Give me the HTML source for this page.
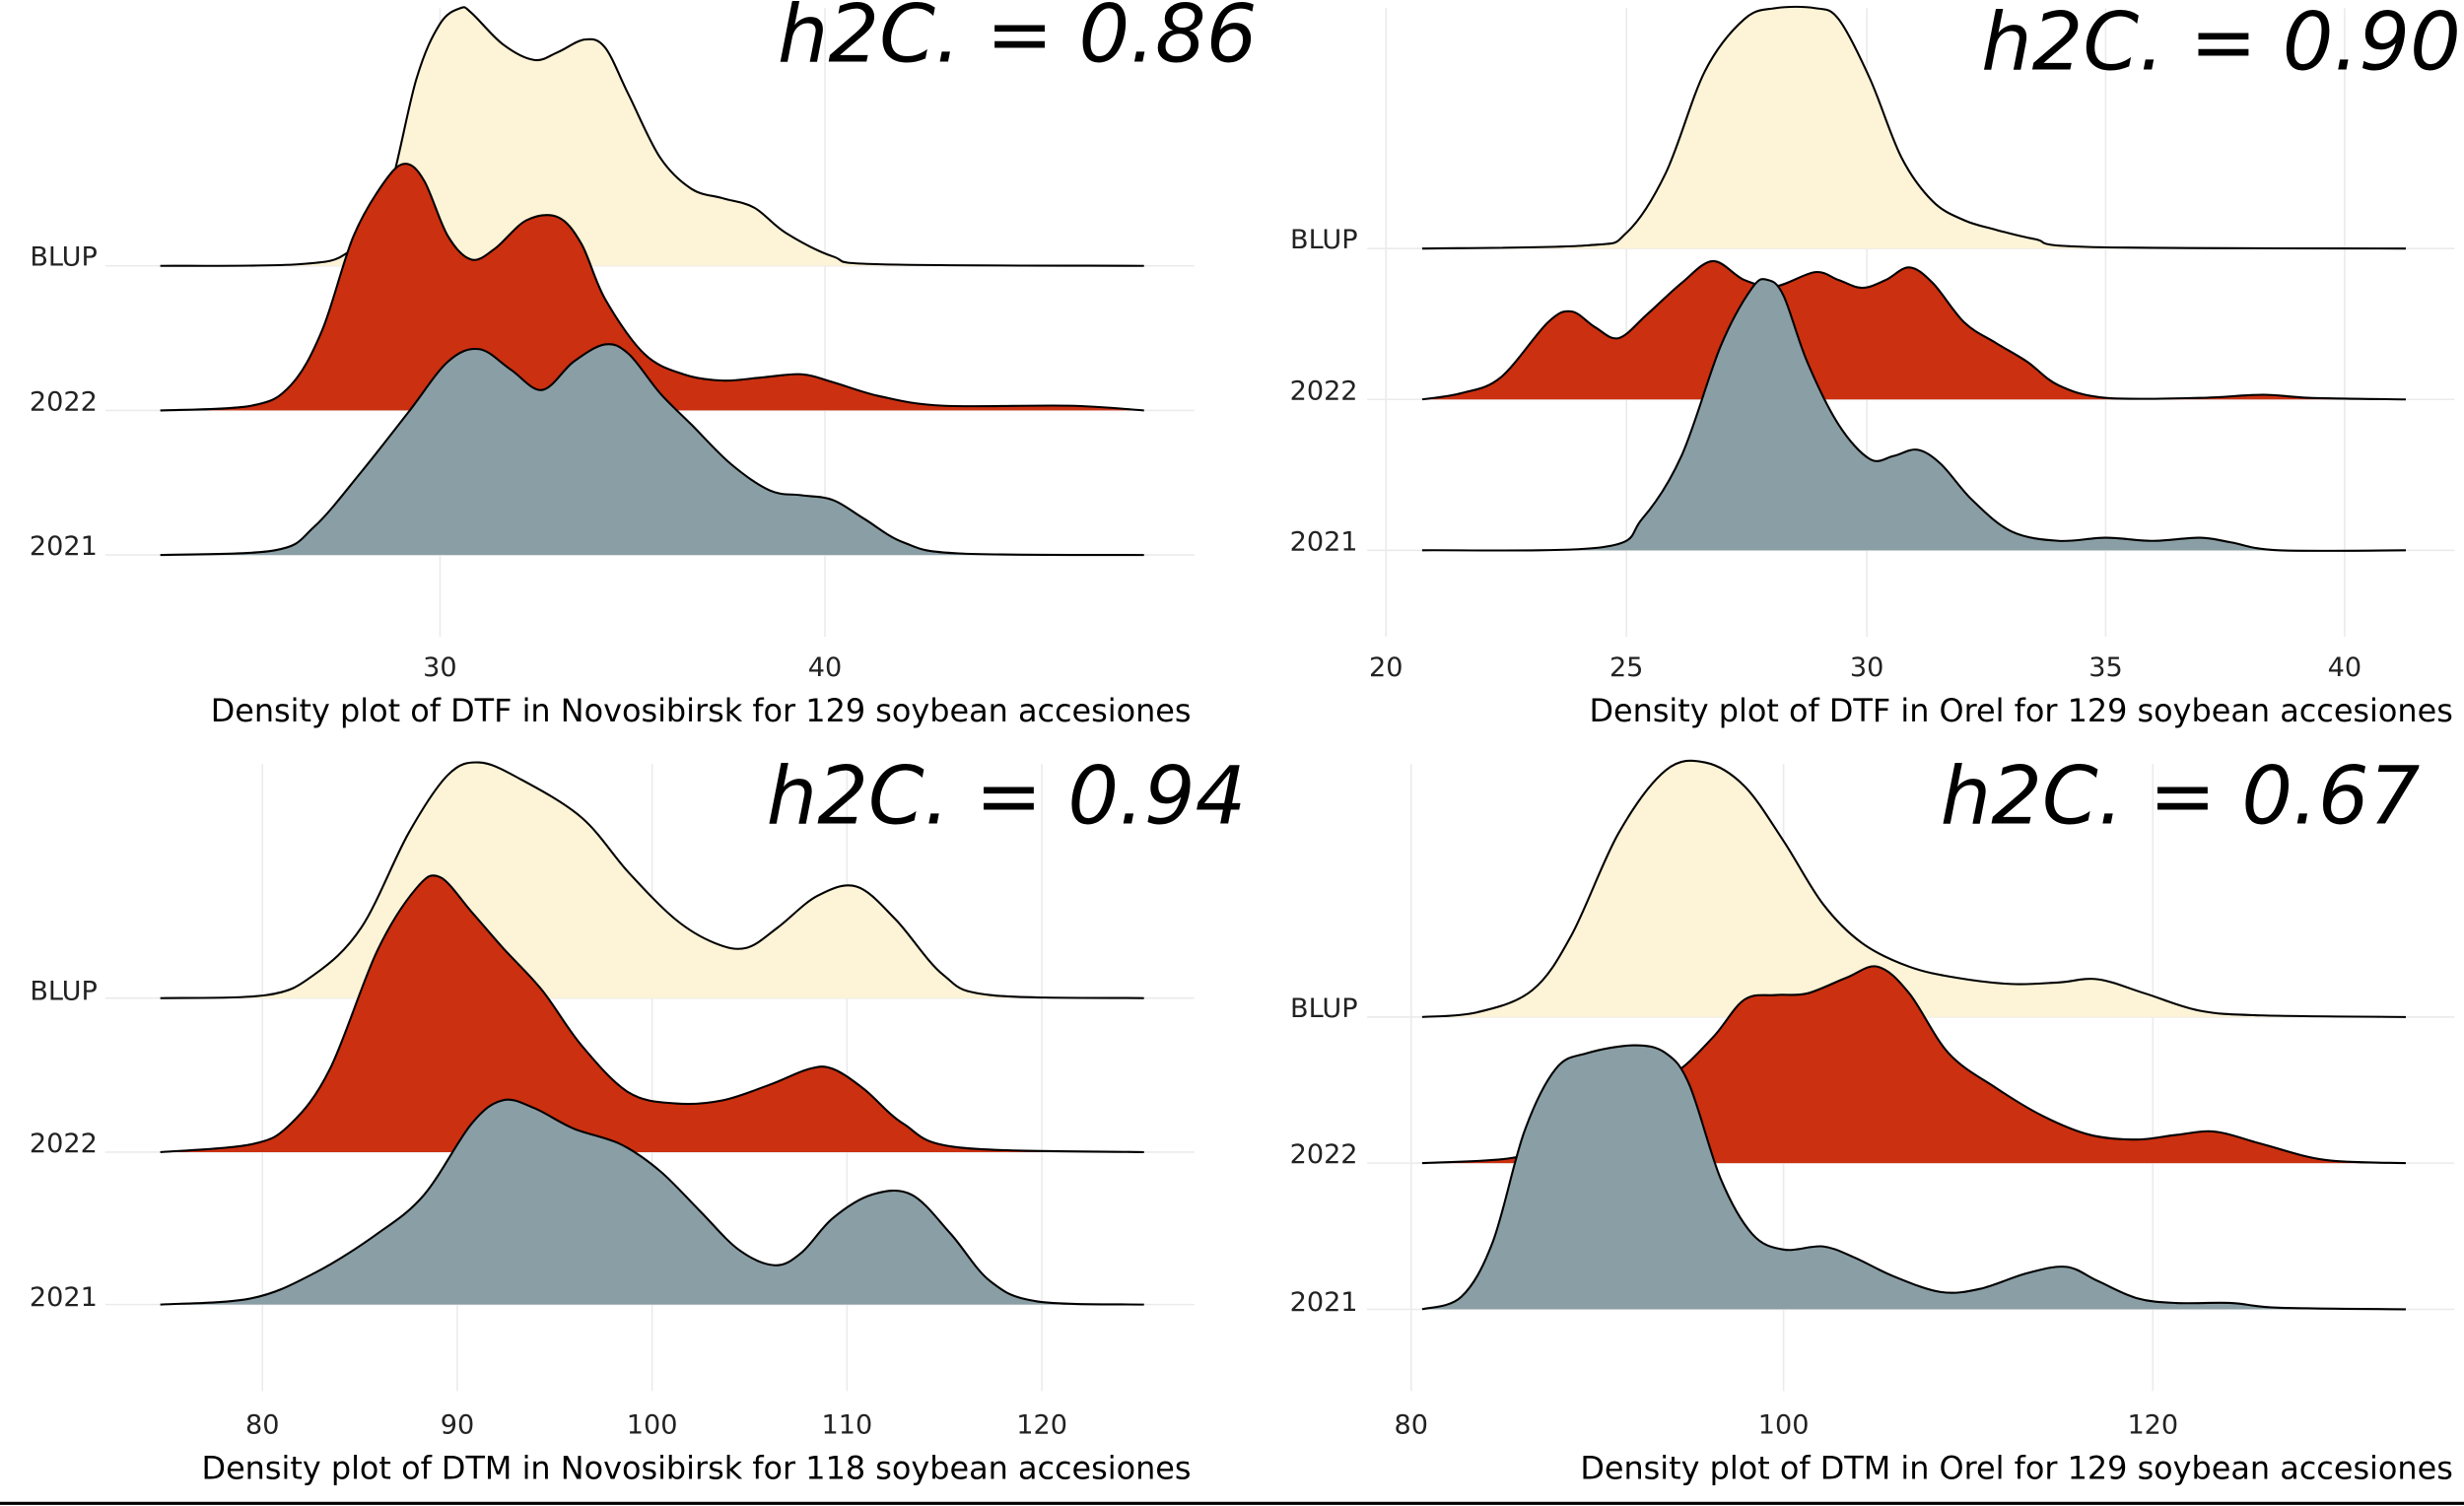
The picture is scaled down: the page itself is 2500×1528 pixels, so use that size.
<!DOCTYPE html>
<html><head><meta charset="utf-8"><style>
html,body{margin:0;padding:0;background:#fff;}
svg{display:block;}
text{font-family:"DejaVu Sans","Liberation Sans",sans-serif;fill:#000;}
.t{font-size:17px;fill:#222;}
.ti{font-size:20px;}
.h{font-size:51px;font-style:italic;}
.g{stroke:#ebebeb;stroke-width:1;}
</style></head><body>
<svg id="s" width="2500" height="1528" viewBox="0 0 1568 958" xmlns="http://www.w3.org/2000/svg">
<g id="grid">
<line class="g" x1="280" y1="5" x2="280" y2="405"/><line class="g" x1="525" y1="5" x2="525" y2="405"/>
<line class="g" x1="67" y1="169" x2="760" y2="169"/><line class="g" x1="67" y1="261" x2="760" y2="261"/><line class="g" x1="67" y1="353" x2="760" y2="353"/>
<line class="g" x1="882" y1="5" x2="882" y2="405"/><line class="g" x1="1035" y1="5" x2="1035" y2="405"/><line class="g" x1="1188" y1="5" x2="1188" y2="405"/><line class="g" x1="1340" y1="5" x2="1340" y2="405"/><line class="g" x1="1492" y1="5" x2="1492" y2="405"/>
<line class="g" x1="870" y1="158" x2="1562" y2="158"/><line class="g" x1="870" y1="254" x2="1562" y2="254"/><line class="g" x1="870" y1="350" x2="1562" y2="350"/>
<line class="g" x1="167" y1="486" x2="167" y2="885"/><line class="g" x1="291" y1="486" x2="291" y2="885"/><line class="g" x1="415" y1="486" x2="415" y2="885"/><line class="g" x1="539" y1="486" x2="539" y2="885"/><line class="g" x1="663" y1="486" x2="663" y2="885"/>
<line class="g" x1="67" y1="635" x2="760" y2="635"/><line class="g" x1="67" y1="733" x2="760" y2="733"/><line class="g" x1="67" y1="830" x2="760" y2="830"/>
<line class="g" x1="898" y1="486" x2="898" y2="885"/><line class="g" x1="1135" y1="486" x2="1135" y2="885"/><line class="g" x1="1370" y1="486" x2="1370" y2="885"/>
<line class="g" x1="870" y1="647" x2="1562" y2="647"/><line class="g" x1="870" y1="740" x2="1562" y2="740"/><line class="g" x1="870" y1="833" x2="1562" y2="833"/>
</g>
<g id="curves"></g>
<text class="t" x="62" y="169" text-anchor="end">BLUP</text>
<text class="t" x="62" y="261" text-anchor="end">2022</text>
<text class="t" x="62" y="353" text-anchor="end">2021</text>
<text class="t" x="864" y="158" text-anchor="end">BLUP</text>
<text class="t" x="864" y="254" text-anchor="end">2022</text>
<text class="t" x="864" y="350" text-anchor="end">2021</text>
<text class="t" x="62" y="636" text-anchor="end">BLUP</text>
<text class="t" x="62" y="733" text-anchor="end">2022</text>
<text class="t" x="62" y="831" text-anchor="end">2021</text>
<text class="t" x="864" y="647" text-anchor="end">BLUP</text>
<text class="t" x="864" y="740" text-anchor="end">2022</text>
<text class="t" x="864" y="834" text-anchor="end">2021</text>
<g class="t" text-anchor="middle">
<text class="t" x="280" y="430">30</text><text class="t" x="525" y="430">40</text>
<text class="t" x="882" y="430">20</text><text class="t" x="1035" y="430">25</text><text class="t" x="1188" y="430">30</text><text class="t" x="1340" y="430">35</text><text class="t" x="1492" y="430">40</text>
<text class="t" x="167" y="912">80</text><text class="t" x="291" y="912">90</text><text class="t" x="415" y="912">100</text><text class="t" x="539" y="912">110</text><text class="t" x="663" y="912">120</text>
<text class="t" x="898" y="912">80</text><text class="t" x="1135" y="912">100</text><text class="t" x="1370" y="912">120</text>
</g>
<text class="ti" x="758" y="459" text-anchor="end">Density plot of DTF in Novosibirsk for 129 soybean accesiones</text>
<text class="ti" x="1561" y="459" text-anchor="end">Density plot of DTF in Orel for 129 soybean accesiones</text>
<text class="ti" x="758" y="941" text-anchor="end">Density plot of DTM in Novosibirsk for 118 soybean accesiones</text>
<text class="ti" x="1561" y="941" text-anchor="end">Density plot of DTM in Orel for 129 soybean accesiones</text>
<text class="h" x="800" y="39" text-anchor="end">h2C. = 0.86</text>
<text class="h" x="1566" y="44" text-anchor="end">h2C. = 0.90</text>
<text class="h" x="793" y="524" text-anchor="end">h2C. = 0.94</text>
<text class="h" x="1540" y="524" text-anchor="end">h2C. = 0.67</text>
<line x1="0" y1="956.5" x2="1568" y2="956.5" stroke="#000" stroke-width="2"/>
</svg>
<script>
var C={b:"#fdf3d6",r:"#cb3010",g:"#8a9ea5"};
var D=[
["b",169,[[102,169],[190,168],[222,160],[245,130],[265,50],[280,15],[293,5],[300,8],[320,28],[340,38],[355,33],[372,25],[385,30],[400,60],[420,100],[440,120],[460,126],[480,132],[500,148],[530,163],[560,168],[728,169]]],
["r",261,[[102,261],[160,258],[185,245],[205,210],[225,150],[245,115],[258,104],[270,115],[285,150],[300,165],[315,158],[335,140],[355,138],[370,155],[385,190],[410,225],[435,238],[460,242],[485,240],[510,238],[530,243],[560,252],[600,258],[680,258],[728,261]]],
["g",353,[[102,353],[175,350],[200,335],[230,300],[260,262],[285,230],[305,222],[325,235],[345,248],[365,230],[385,219],[400,225],[420,250],[440,270],[465,295],[490,312],[510,315],[530,318],[550,330],[575,345],[610,352],[728,353]]],
["b",158,[[905,158],[1010,156],[1035,148],[1060,110],[1085,45],[1110,12],[1130,5],[1155,5],[1170,12],[1190,50],[1210,100],[1230,128],[1250,140],[1270,146],[1295,152],[1330,157],[1531,158]]],
["r",254,[[905,254],[930,250],[955,240],[985,205],[1000,198],[1015,208],[1030,215],[1048,200],[1070,180],[1090,166],[1110,178],[1130,182],[1155,173],[1170,178],[1185,183],[1200,178],[1215,170],[1230,180],[1250,205],[1270,218],[1290,230],[1310,245],[1340,253],[1400,253],[1440,251],[1470,253],[1531,254]]],
["g",350,[[905,350],[1020,348],[1045,330],[1070,290],[1095,220],[1115,183],[1125,178],[1135,188],[1150,230],[1170,270],[1190,292],[1205,290],[1220,286],[1235,295],[1255,318],[1280,338],[1310,344],[1340,342],[1370,344],[1400,342],[1420,345],[1450,350],[1531,350]]],
["b",635,[[102,635],[170,633],[200,620],[230,590],[260,530],[285,493],[305,485],[330,495],[370,520],[400,555],[430,585],[455,600],[475,603],[495,590],[520,570],[545,564],[570,585],[600,620],[630,633],[728,635]]],
["r",733,[[102,733],[160,728],[185,715],[210,680],[240,605],[265,565],[280,558],[300,580],[320,603],[345,630],[370,665],[400,695],[430,702],[460,700],[490,690],[515,680],[530,680],[550,693],[575,715],[610,730],[728,733]]],
["g",830,[[102,830],[160,826],[200,810],[240,785],[270,760],[300,715],[320,700],[340,705],[365,718],[395,728],[420,745],[445,770],[470,795],[493,805],[510,797],[530,775],[555,760],[580,760],[605,785],[630,815],[660,828],[728,830]]],
["b",647,[[905,647],[940,644],[975,630],[1000,595],[1030,530],[1060,490],[1085,485],[1110,500],[1135,535],[1160,575],[1185,600],[1215,615],[1245,622],[1280,626],[1310,625],[1335,623],[1365,632],[1400,643],[1440,646],[1531,647]]],
["r",740,[[905,740],[960,737],[985,728],[1010,700],[1040,688],[1065,683],[1090,660],[1110,636],[1130,633],[1150,632],[1175,622],[1195,615],[1215,632],[1240,670],[1270,692],[1300,710],[1330,722],[1360,725],[1385,722],[1410,720],[1440,728],[1480,738],[1531,740]]],
["g",833,[[905,833],[930,825],[950,790],[970,720],[990,680],[1010,670],[1040,665],[1060,670],[1075,690],[1095,750],[1115,785],[1135,795],[1160,793],[1180,800],[1205,812],[1235,822],[1260,820],[1290,810],[1315,806],[1335,815],[1360,826],[1385,829],[1420,829],[1450,832],[1531,833]]]
];
function cr(p){var d="M"+p[0][0]+","+p[0][1];for(var i=0;i<p.length-1;i++){var a=p[i-1]||p[i],b=p[i],c=p[i+1],e=p[i+2]||c;
d+=" C"+(b[0]+(c[0]-a[0])/6)+","+(b[1]+(c[1]-a[1])/6)+" "+(c[0]-(e[0]-b[0])/6)+","+(c[1]-(e[1]-b[1])/6)+" "+c[0]+","+c[1];}return d;}
var g=document.getElementById("curves"),ns="http://www.w3.org/2000/svg";
D.forEach(function(s){var p=s[2],d=cr(p);
var f=document.createElementNS(ns,"path");f.setAttribute("d",d+" L"+p[p.length-1][0]+","+s[1]+" L"+p[0][0]+","+s[1]+"Z");f.setAttribute("fill",C[s[0]]);g.appendChild(f);
var l=document.createElementNS(ns,"path");l.setAttribute("d",d);l.setAttribute("fill","none");l.setAttribute("stroke","#000");l.setAttribute("stroke-width","1.3");l.setAttribute("stroke-linejoin","round");g.appendChild(l);});
</script>
</body></html>
